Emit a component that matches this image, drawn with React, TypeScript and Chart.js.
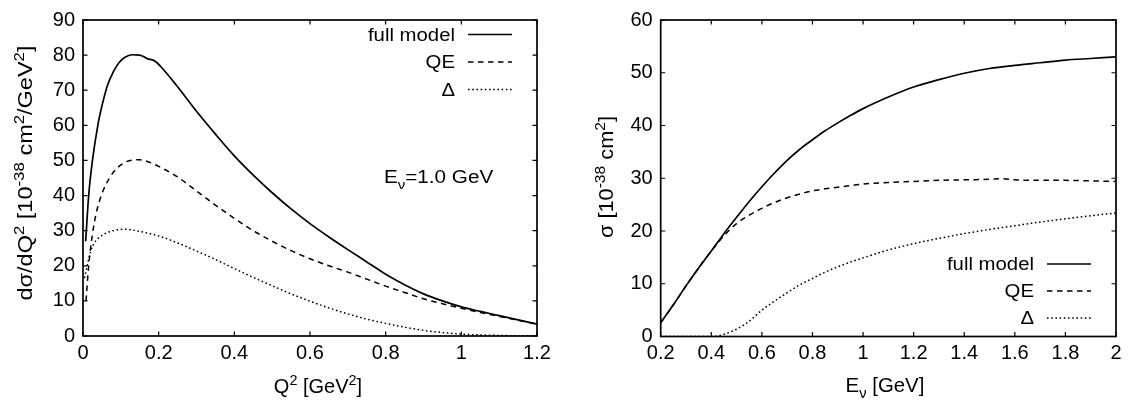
import React, { useEffect, useRef } from 'react';
import { Chart, registerables } from 'chart.js';

Chart.register(...registerables);

// ---------------- data: left panel (dσ/dQ² at Eν = 1.0 GeV) ----------------
const q2Full = [0.007, 0.015, 0.025, 0.04, 0.05, 0.065, 0.08, 0.095, 0.11, 0.13, 0.15, 0.17, 0.19, 0.21, 0.25, 0.3, 0.35, 0.4, 0.45, 0.5, 0.55, 0.6, 0.65, 0.7, 0.75, 0.8, 0.85, 0.9, 0.95, 1.0, 1.05, 1.1, 1.15, 1.2];
const dsFull = [27, 40, 50, 60.5, 65.5, 71.5, 75.2, 77.8, 79.3, 80.1, 80.0, 79.0, 78.3, 76.2, 71, 64, 57.5, 51.3, 45.8, 40.8, 36.2, 32.0, 28.2, 24.6, 21.1, 17.6, 14.6, 12.0, 10.0, 8.3, 7.0, 5.8, 4.6, 3.4];

const q2QE = [0.008, 0.015, 0.025, 0.035, 0.05, 0.07, 0.09, 0.11, 0.13, 0.15, 0.17, 0.2, 0.25, 0.3, 0.35, 0.4, 0.45, 0.5, 0.55, 0.6, 0.65, 0.7, 0.75, 0.8, 0.85, 0.9, 0.95, 1.0, 1.05, 1.1, 1.15, 1.2];
const dsQE = [10, 20, 29, 35, 40.5, 45, 47.8, 49.4, 50.1, 50.2, 49.7, 48.3, 45.3, 41.3, 37.3, 33.5, 30.0, 27.0, 24.3, 22.0, 20.0, 18.2, 16.2, 14.2, 12.4, 10.6, 9.2, 7.9, 6.7, 5.6, 4.5, 3.4];

const q2Delta = [0.004, 0.01, 0.02, 0.03, 0.05, 0.07, 0.09, 0.11, 0.13, 0.15, 0.2, 0.25, 0.3, 0.35, 0.4, 0.45, 0.5, 0.55, 0.6, 0.65, 0.7, 0.75, 0.8, 0.85, 0.9, 0.95, 1.0, 1.05, 1.1, 1.15, 1.2];
const dsDelta = [16.5, 19.5, 24, 26.5, 28.6, 29.7, 30.2, 30.4, 30.2, 29.8, 28.5, 26.5, 24.2, 21.8, 19.2, 16.7, 14.3, 12.0, 9.9, 8.0, 6.3, 4.8, 3.6, 2.5, 1.6, 1.0, 0.55, 0.3, 0.15, 0.07, 0.03];

// ---------------- data: right panel (σ vs Eν) ----------------
const evFull = [0.2, 0.25, 0.3, 0.35, 0.4, 0.45, 0.5, 0.55, 0.6, 0.65, 0.7, 0.75, 0.8, 0.85, 0.9, 0.95, 1.0, 1.1, 1.2, 1.3, 1.4, 1.5, 1.6, 1.7, 1.8, 1.9, 2.0];
const sigFull = [2.6, 6.0, 9.6, 13.0, 16.2, 19.5, 22.6, 25.6, 28.4, 31.0, 33.4, 35.5, 37.3, 39.0, 40.5, 41.9, 43.2, 45.4, 47.3, 48.7, 49.9, 50.8, 51.4, 51.9, 52.4, 52.7, 53.0];

const evQE = [0.2, 0.25, 0.3, 0.35, 0.4, 0.45, 0.5, 0.55, 0.6, 0.65, 0.7, 0.75, 0.8, 0.85, 0.9, 0.95, 1.0, 1.1, 1.2, 1.3, 1.4, 1.5, 1.55, 1.6, 1.7, 1.8, 1.9, 2.0];
const sigQE = [2.6, 6.0, 9.6, 13.0, 16.2, 19.1, 21.4, 23.0, 24.3, 25.4, 26.3, 27.0, 27.6, 28.0, 28.3, 28.6, 28.9, 29.2, 29.4, 29.6, 29.7, 29.8, 29.9, 29.7, 29.6, 29.6, 29.5, 29.4];

const evDelta = [0.2, 0.3, 0.4, 0.42, 0.45, 0.5, 0.55, 0.6, 0.65, 0.7, 0.75, 0.8, 0.85, 0.9, 0.95, 1.0, 1.1, 1.2, 1.3, 1.4, 1.5, 1.6, 1.7, 1.8, 1.9, 2.0];
const sigDelta = [0, 0, 0, 0.05, 0.4, 1.4, 2.9, 5.0, 6.7, 8.3, 9.8, 11.0, 12.2, 13.2, 14.1, 14.9, 16.4, 17.6, 18.6, 19.5, 20.3, 21.0, 21.7, 22.3, 22.9, 23.4];

const seriesLabels = ['full model', 'QE', 'Δ'];
const leftXRange = [0, 1.2];
const leftYRange = [0, 90];
const rightXRange = [0.2, 2.0];
const rightYRange = [0, 60];
const xStep = 0.2;
const yStep = 10;

// ---------------- styling ----------------
const FONT = '"Liberation Sans", Arial, Helvetica, sans-serif';
const TICK_SIZE = 20;
const TEXT_SIZE = 18;
const TITLE_SIZE = 20;
const DASH_QE = [5.5, 4.5];
const DASH_DELTA = [1.6, 2.6];
const LINE_W = 1.7;
const CW = 565;
const CH = 409;
const Y_AXIS_W = 60;
const X_AXIS_H = 30;

type Seg = { t: string; k?: 'sup' | 'sub' };
type RichOpts = {
  x: number;
  y: number;
  size: number;
  align: 'left' | 'center' | 'right';
  stretch?: number;
  length?: number;
  rotate?: boolean;
};

const segFont = (size: number, k?: string) => `${k ? size * 0.72 : size}px ${FONT}`;

function measureRich(ctx: CanvasRenderingContext2D, segs: Seg[], size: number) {
  let w = 0;
  for (const s of segs) {
    ctx.font = segFont(size, s.k);
    w += ctx.measureText(s.t).width;
  }
  return w;
}

function drawRich(ctx: CanvasRenderingContext2D, segs: Seg[], o: RichOpts) {
  const natural = measureRich(ctx, segs, o.size);
  const sx = o.length ? o.length / natural : o.stretch ?? 1;
  ctx.save();
  ctx.translate(o.x, o.y);
  if (o.rotate) ctx.rotate(-Math.PI / 2);
  ctx.scale(sx, 1);
  ctx.fillStyle = '#000';
  ctx.textBaseline = 'alphabetic';
  ctx.textAlign = 'left';
  let cx = o.align === 'left' ? 0 : o.align === 'right' ? -natural : -natural / 2;
  const base = 0.36 * o.size;
  for (const s of segs) {
    ctx.font = segFont(o.size, s.k);
    const dy = s.k === 'sup' ? -0.42 * o.size : s.k === 'sub' ? 0.3 * o.size : 0;
    ctx.fillText(s.t, cx, base + dy);
    cx += ctx.measureText(s.t).width;
  }
  ctx.restore();
}

type Deco = {
  legendTop: number;
  legendStep: number;
  texts: { segs: Seg[]; opts: RichOpts }[];
};

function makeDeco(d: Deco) {
  return {
    id: 'deco',
    afterDraw(chart: any) {
      const { ctx, chartArea: a, scales } = chart;
      const xs = scales.x;
      const ys = scales.y;
      const L = 4.5;
      ctx.save();
      ctx.strokeStyle = '#000';
      ctx.lineWidth = 1.2;
      ctx.setLineDash([]);
      ctx.beginPath();
      for (const t of xs.ticks) {
        const px = xs.getPixelForValue(t.value);
        ctx.moveTo(px, a.bottom);
        ctx.lineTo(px, a.bottom - L);
        ctx.moveTo(px, a.top);
        ctx.lineTo(px, a.top + L);
      }
      for (const t of ys.ticks) {
        const py = ys.getPixelForValue(t.value);
        ctx.moveTo(a.left, py);
        ctx.lineTo(a.left + L, py);
        ctx.moveTo(a.right, py);
        ctx.lineTo(a.right - L, py);
      }
      ctx.stroke();
      ctx.lineWidth = 1.7;
      ctx.strokeRect(a.left, a.top, a.right - a.left, a.bottom - a.top);

      chart.data.datasets.forEach((ds: any, i: number) => {
        const y = d.legendTop + i * d.legendStep;
        drawRich(ctx, [{ t: ds.label }], { x: a.right - 82, y, size: TEXT_SIZE, align: 'right', stretch: 1.13 });
        ctx.setLineDash(ds.borderDash || []);
        ctx.lineWidth = ds.borderWidth;
        ctx.strokeStyle = '#000';
        ctx.beginPath();
        ctx.moveTo(a.right - 69, y);
        ctx.lineTo(a.right - 25, y);
        ctx.stroke();
      });
      ctx.setLineDash([]);
      for (const tx of d.texts) drawRich(ctx, tx.segs, tx.opts);
      ctx.restore();
    },
  };
}

const fmt = (v: any) => String(Math.round(Number(v) * 10) / 10);

function pts(xs: number[], ys: number[]) {
  return xs.map((x, i) => ({ x, y: ys[i] }));
}

function buildConfig(
  series: { x: number[]; y: number[] }[],
  xr: number[],
  yr: number[],
  area: { left: number; right: number; top: number; bottom: number },
  deco: Deco
): any {
  const dashes = [[], DASH_QE, DASH_DELTA];
  return {
    type: 'line',
    data: {
      datasets: series.map((s, i) => ({
        label: seriesLabels[i],
        data: pts(s.x, s.y),
        borderColor: '#000',
        borderWidth: i === 0 ? LINE_W : 1.5,
        borderDash: dashes[i],
        pointRadius: 0,
        fill: false,
        cubicInterpolationMode: 'monotone',
        order: i === 0 ? 0 : 1,
      })),
    },
    options: {
      animation: false,
      responsive: false,
      devicePixelRatio: 1,
      events: [],
      layout: {
        padding: {
          left: area.left - Y_AXIS_W,
          right: CW - area.right,
          top: area.top,
          bottom: CH - area.bottom - X_AXIS_H,
        },
      },
      plugins: { legend: { display: false }, tooltip: { enabled: false } },
      scales: {
        x: {
          type: 'linear',
          min: xr[0],
          max: xr[1],
          ticks: {
            stepSize: xStep,
            callback: fmt,
            color: '#000',
            font: { family: FONT, size: TICK_SIZE },
            padding: 5,
            maxRotation: 0,
            autoSkip: false,
          },
          grid: { display: false, drawTicks: false },
          border: { display: false },
          afterFit: (s: any) => {
            s.height = X_AXIS_H;
          },
        },
        y: {
          type: 'linear',
          min: yr[0],
          max: yr[1],
          ticks: {
            stepSize: yStep,
            callback: fmt,
            color: '#000',
            font: { family: FONT, size: TICK_SIZE },
            padding: 8,
          },
          grid: { display: false, drawTicks: false },
          border: { display: false },
          afterFit: (s: any) => {
            s.width = Y_AXIS_W;
          },
        },
      },
    },
    plugins: [makeDeco(deco)],
  };
}

const leftXTitle: Seg[] = [{ t: 'Q' }, { t: '2', k: 'sup' }, { t: ' [GeV' }, { t: '2', k: 'sup' }, { t: ']' }];
const leftYTitle: Seg[] = [
  { t: 'dσ/dQ' }, { t: '2', k: 'sup' }, { t: ' [10' }, { t: '-38', k: 'sup' }, { t: ' cm' }, { t: '2', k: 'sup' }, { t: '/GeV' }, { t: '2', k: 'sup' }, { t: ']' },
];
const energyNote: Seg[] = [{ t: 'E' }, { t: 'ν', k: 'sub' }, { t: '=1.0 GeV' }];
const rightXTitle: Seg[] = [{ t: 'E' }, { t: 'ν', k: 'sub' }, { t: ' [GeV]' }];
const rightYTitle: Seg[] = [{ t: 'σ [10' }, { t: '-38', k: 'sup' }, { t: ' cm' }, { t: '2', k: 'sup' }, { t: ']' }];

export default function App() {
  const leftRef = useRef<HTMLCanvasElement>(null);
  const rightRef = useRef<HTMLCanvasElement>(null);

  useEffect(() => {
    const left = new Chart(
      leftRef.current as HTMLCanvasElement,
      buildConfig(
        [
          { x: q2Full, y: dsFull },
          { x: q2QE, y: dsQE },
          { x: q2Delta, y: dsDelta },
        ],
        leftXRange,
        leftYRange,
        { left: 83, right: 537, top: 16, bottom: 336 },
        {
          legendTop: 34.5,
          legendStep: 27.5,
          texts: [
            { segs: energyNote, opts: { x: 384, y: 177, size: TEXT_SIZE, align: 'left', stretch: 1.15 } },
            { segs: leftXTitle, opts: { x: 318, y: 386, size: TITLE_SIZE, align: 'center', stretch: 1.0 } },
            { segs: leftYTitle, opts: { x: 25, y: 173, size: TITLE_SIZE, align: 'center', length: 255, rotate: true } },
          ],
        }
      )
    );
    const right = new Chart(
      rightRef.current as HTMLCanvasElement,
      buildConfig(
        [
          { x: evFull, y: sigFull },
          { x: evQE, y: sigQE },
          { x: evDelta, y: sigDelta },
        ],
        rightXRange,
        rightYRange,
        { left: 95.7, right: 551, top: 16, bottom: 336.5 },
        {
          legendTop: 264,
          legendStep: 27,
          texts: [
            { segs: rightXTitle, opts: { x: 320, y: 385, size: TITLE_SIZE, align: 'center', stretch: 1.02 } },
            { segs: rightYTitle, opts: { x: 41, y: 177, size: TITLE_SIZE, align: 'center', length: 122, rotate: true } },
          ],
        }
      )
    );
    return () => {
      left.destroy();
      right.destroy();
    };
  }, []);

  return (
    <div style={{ position: 'absolute', left: 0, top: 0, width: 1130, height: 409, background: '#fff' }}>
      <canvas ref={leftRef} width={CW} height={CH} style={{ position: 'absolute', left: 0, top: 0, width: CW, height: CH }} />
      <canvas ref={rightRef} width={CW} height={CH} style={{ position: 'absolute', left: CW, top: 0, width: CW, height: CH }} />
    </div>
  );
}
